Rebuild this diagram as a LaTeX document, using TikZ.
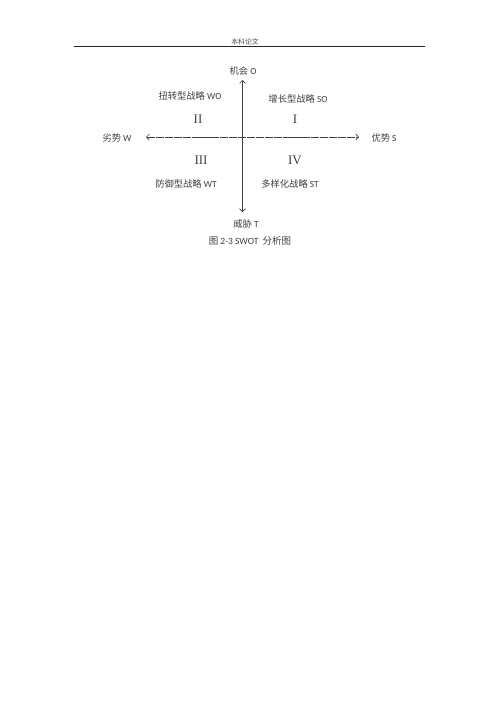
\documentclass[tikz,border=0pt]{standalone}
\usepackage{fontspec}
\setmainfont{Carlito}
\newfontfamily\cjk{Noto Sans CJK SC}
\newfontfamily\romfont{Liberation Serif}
\usetikzlibrary{arrows.meta}
\begin{document}
\begin{tikzpicture}[x=1pt,y=-1pt,
  lbl/.style={font=\fontsize{9.3}{11}\selectfont, text=black!75, inner sep=0pt},
  rom/.style={font=\romfont\fontsize{13}{14}\selectfont, text=black!75, inner sep=0pt},
  axis/.style={draw=black!75, line width=0.6pt, {Straight Barb[length=3pt,width=6pt]}-{Straight Barb[length=3pt,width=6pt]}}]
\useasboundingbox[fill=white] (0,0) rectangle (500,707);
% header
\node[font=\cjk\fontsize{6.8}{8}\selectfont, text=black!70, inner sep=0pt] (hdr) at (245,42) {本科论文};
\coordinate (hl) at (74,46.5);
\coordinate (hr) at (425,46.5);
\draw[black!85, line width=0.7pt] (hl) -- (hr);
% axes
\coordinate (top) at (242.5,80);
\coordinate (bot) at (242.5,212);
\coordinate (lft) at (146,137);
\coordinate (rgt) at (359,137);
\draw[axis, dash pattern=on 8.3pt off 0.8pt] (lft) -- (rgt);
\draw[axis] (top) -- (bot);
% axis labels
\node[lbl] (o) at (243,71) {{\cjk 机会} O};
\node[lbl] (t) at (246,224) {{\cjk 威胁} T};
\node[lbl] (w) at (117,137.5) {{\cjk 劣势} W};
\node[lbl] (s) at (384,137.5) {{\cjk 优势} S};
% quadrant labels
\node[lbl] (wo) at (190,96) {{\cjk 扭转型战略} WO};
\node[lbl] (so) at (298,99) {{\cjk 增长型战略} SO};
\node[lbl] (wt) at (186,184) {{\cjk 防御型战略} WT};
\node[lbl] (st) at (290,184) {{\cjk 多样化战略} ST};
\node[rom] (q2) at (198,119) {II};
\node[rom] (q1) at (295,119) {I};
\node[rom] (q3) at (201,160) {III};
\node[rom] (q4) at (295,160) {IV};
% caption
\node[font=\fontsize{9.5}{11}\selectfont, text=black!75, inner sep=0pt] (cap) at (250,240.5) {{\cjk 图} 2-3 SWOT\ \ {\cjk 分析图}};
\end{tikzpicture}
\end{document}
